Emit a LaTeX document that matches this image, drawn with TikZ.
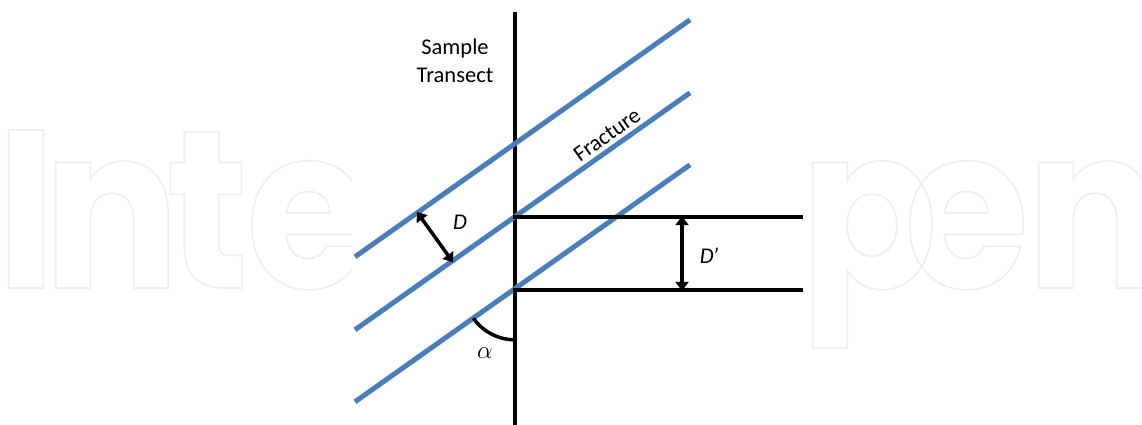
\documentclass[tikz,border=0pt]{standalone}
\usepackage{fontspec}
\setsansfont{Carlito}
\newfontfamily\wmfont{Poppins}[FakeStretch=0.9]
\usetikzlibrary{arrows.meta,calc}
\definecolor{fracblue}{RGB}{74,126,187}
\definecolor{wmgray}{RGB}{238,238,238}
\newcommand{\outlinetext}[1]{\special{pdf:literal direct 1 Tr 1.6 w}#1\special{pdf:literal direct 0 Tr}}
\tikzset{
  fracline/.style={draw=fracblue, line width=5pt},
  blackline/.style={draw=black, line width=4pt},
  dimarrow/.style={draw=black, line width=3.5pt, {Triangle[width=13pt,length=9pt]}-{Triangle[width=13pt,length=9pt]}, shorten <=-1pt, shorten >=-1pt},
  lab/.style={font=\sffamily\fontsize{22.5}{28}\selectfont, inner sep=1pt},
  wm/.style={font=\wmfont\bfseries\fontsize{225}{225}\selectfont, text=wmgray, inner sep=0pt, anchor=base west}
}
\begin{document}
\begin{tikzpicture}[x=1pt,y=1pt]
\useasboundingbox (0,0) rectangle (1142,425);
% watermark
\begin{scope}
  \clip (0,0) rectangle (352,425);
  \node[wm] (wmI) at (-4,137) {\outlinetext{I}};
  \node[wm] (wmn) at (43,137) {\outlinetext{n}};
  \node[wm] (wmt) at (166,137) {\outlinetext{t}};
  \node[wm] (wme) at (246,137) {\outlinetext{e}};
\end{scope}
\begin{scope}
  \clip (805,0) rectangle (1142,425);
  \node[wm] (wmp) at (800,137) {\outlinetext{p}};
  \node[wm] (wme2) at (904,137) {\outlinetext{e}};
  \node[wm] (wmn2) at (1026,137) {\outlinetext{n}};
\end{scope}
% coordinates
\coordinate (vt) at (515,413);
\coordinate (vb) at (515,-2);
\coordinate (a1) at (355,168.2);
\coordinate (b1) at (690,405.2);
\coordinate (a2) at (355,95.2);
\coordinate (b2) at (690,332.2);
\coordinate (a3) at (355,23.2);
\coordinate (b3) at (690,260.2);
\coordinate (i2) at (513,207.8);
\coordinate (i3) at (513,135.2);
\coordinate (h2) at (803,207.8);
\coordinate (h3) at (803,135.2);
\coordinate (dpt) at (682,207.8);
\coordinate (dpb) at (682,135.2);
\coordinate (dt) at (417.5,212.3);
\coordinate (db) at (452.5,163.5);
\coordinate (arcs) at (473.4,106.7);
% lines
\draw[blackline] (vt) -- (vb);
\draw[fracline] (a1) -- (b1);
\draw[fracline] (a2) -- (b2);
\draw[fracline] (a3) -- (b3);
\draw[blackline] (i2) -- (h2);
\draw[blackline] (i3) -- (h3);
% dimension arrows
\draw[dimarrow] (dpt) -- (dpb);
\draw[dimarrow] (dt) -- (db);
% angle arc
\draw[black, line width=3.5pt] (arcs) arc[start angle=215.3, end angle=270, radius=51];
% labels
\node[lab, align=center] (st) at (455,364) {Sample\\Transect};
\node[lab, rotate=35.3] (fr) at (607,290) {Fracture};
\node[lab] (dl) at (460,203) {\itshape D};
\node[lab] (dpl) at (709,169) {\itshape D\kern-1pt\char"2019};
\node[lab, font=\fontsize{28}{28}\selectfont] (al) at (485,72) {$\alpha$};
\end{tikzpicture}
\end{document}
